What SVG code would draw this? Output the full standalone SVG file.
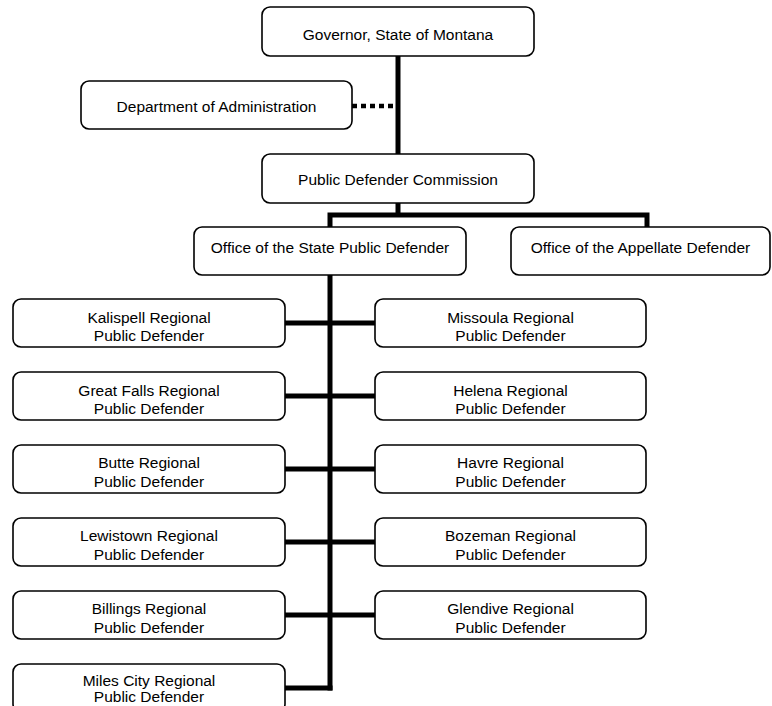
<svg xmlns="http://www.w3.org/2000/svg" width="772" height="706" viewBox="0 0 772 706">
<style>
.box{fill:#fff;stroke:#000;stroke-width:1.6}
.t{font-family:"Liberation Sans",Arial,sans-serif;font-size:15.5px;fill:#000;text-anchor:middle}
.ln{stroke:#000;stroke-width:5;fill:none}
.dot{stroke:#000;stroke-width:4.5;fill:none;stroke-dasharray:5 4}
</style>
<rect width="772" height="706" fill="#fff"/>
<g id="connectors">
<line class="ln" x1="398" y1="56" x2="398" y2="155"/>
<line class="dot" x1="352" y1="106" x2="396" y2="106"/>
<line class="ln" x1="398" y1="203" x2="398" y2="215"/>
<polyline class="ln" points="330,228 330,215 647,215 647,228"/>
<line class="ln" x1="330" y1="275" x2="330" y2="690.5"/>
<line class="ln" x1="285" y1="323" x2="375" y2="323"/>
<line class="ln" x1="285" y1="396" x2="375" y2="396"/>
<line class="ln" x1="285" y1="469" x2="375" y2="469"/>
<line class="ln" x1="285" y1="542" x2="375" y2="542"/>
<line class="ln" x1="285" y1="615" x2="375" y2="615"/>
<line class="ln" x1="285" y1="688" x2="332.5" y2="688"/>
</g>
<g id="governor"><rect class="box" x="262" y="7" width="272" height="49" rx="8"/><text class="t" x="398" y="40">Governor, State of Montana</text></g>
<g id="dept-admin"><rect class="box" x="81" y="81" width="271" height="48" rx="8"/><text class="t" x="216.5" y="112">Department of Administration</text></g>
<g id="commission"><rect class="box" x="262" y="154" width="272" height="49" rx="8"/><text class="t" x="398" y="185">Public Defender Commission</text></g>
<g id="ospd"><rect class="box" x="194" y="227" width="272" height="48" rx="8"/><text class="t" x="330" y="253">Office of the State Public Defender</text></g>
<g id="appellate"><rect class="box" x="511" y="227" width="259" height="48" rx="8"/><text class="t" x="640.5" y="253">Office of the Appellate Defender</text></g>
<g id="kalispell"><rect class="box" x="13" y="299" width="272" height="48" rx="8"/><text class="t" x="149" y="322.5">Kalispell Regional</text><text class="t" x="149" y="341">Public Defender</text></g>
<g id="missoula"><rect class="box" x="375" y="299" width="271" height="48" rx="8"/><text class="t" x="510.5" y="322.5">Missoula Regional</text><text class="t" x="510.5" y="341">Public Defender</text></g>
<g id="greatfalls"><rect class="box" x="13" y="372" width="272" height="48" rx="8"/><text class="t" x="149" y="395.5">Great Falls Regional</text><text class="t" x="149" y="414">Public Defender</text></g>
<g id="helena"><rect class="box" x="375" y="372" width="271" height="48" rx="8"/><text class="t" x="510.5" y="395.5">Helena Regional</text><text class="t" x="510.5" y="414">Public Defender</text></g>
<g id="butte"><rect class="box" x="13" y="445" width="272" height="48" rx="8"/><text class="t" x="149" y="468">Butte Regional</text><text class="t" x="149" y="487">Public Defender</text></g>
<g id="havre"><rect class="box" x="375" y="445" width="271" height="48" rx="8"/><text class="t" x="510.5" y="468">Havre Regional</text><text class="t" x="510.5" y="487">Public Defender</text></g>
<g id="lewistown"><rect class="box" x="13" y="518" width="272" height="48" rx="8"/><text class="t" x="149" y="541">Lewistown Regional</text><text class="t" x="149" y="560">Public Defender</text></g>
<g id="bozeman"><rect class="box" x="375" y="518" width="271" height="48" rx="8"/><text class="t" x="510.5" y="541">Bozeman Regional</text><text class="t" x="510.5" y="560">Public Defender</text></g>
<g id="billings"><rect class="box" x="13" y="591" width="272" height="48" rx="8"/><text class="t" x="149" y="614">Billings Regional</text><text class="t" x="149" y="633">Public Defender</text></g>
<g id="glendive"><rect class="box" x="375" y="591" width="271" height="48" rx="8"/><text class="t" x="510.5" y="614">Glendive Regional</text><text class="t" x="510.5" y="633">Public Defender</text></g>
<g id="milescity"><rect class="box" x="13" y="664" width="272" height="48" rx="8"/><text class="t" x="149" y="686">Miles City Regional</text><text class="t" x="149" y="702">Public Defender</text></g>
</svg>
